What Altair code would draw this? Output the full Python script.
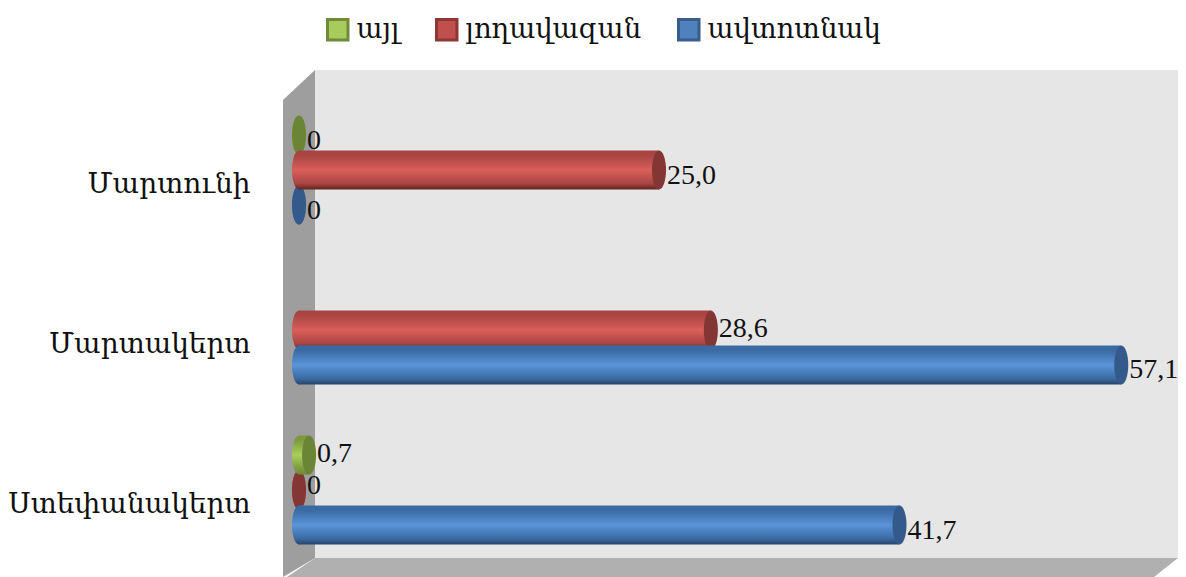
import altair as alt
import pandas as pd

# ---- chart data ----
cities = ["Մարտունի", "Մարտակերտ", "Ստեփանակերտ"]
series = ["այլ", "լողավազան", "ավտոտնակ"]
values_other = [0, None, 0.7]
values_pool = [25.0, 28.6, 0]
values_garage = [0, 57.1, 41.7]
labels_other = ["0", "", "0,7"]
labels_pool = ["25,0", "28,6", "0"]
labels_garage = ["0", "57,1", "41,7"]

# ---- styling ----
SERIF = "DejaVu Serif"
NUM_FONT = "Liberation Serif"
PX_W, PX_H = 895, 507
XDOM = [-1.111, 61.04]
DEPTH = 1.111
BAND_STYLE = {
    "այլ": dict(off=-35, stops=["#7d9a3f", "#a9cf59", "#6f8a35"], cap="#6b8536", swatch="#a9cb5d", edge="#6f8a38"),
    "լողավազան": dict(off=0, stops=["#a84542", "#d95f5b", "#5e2423"], cap="#843634", swatch="#c0504d", edge="#8c3836"),
    "ավտոտնակ": dict(off=35, stops=["#3a6aa3", "#5a93d8", "#274468"], cap="#335a8a", swatch="#4f81bd", edge="#385d8a"),
}
nudge = {
    ("այլ", cities[0]): 6, ("լողավազան", cities[0]): 6, ("ավտոտնակ", cities[0]): 6,
    ("լողավազան", cities[1]): -1, ("ավտոտնակ", cities[1]): 5,
    ("այլ", cities[2]): -1, ("լողավազան", cities[2]): -4, ("ավտոտնակ", cities[2]): 6,
}
ELLIPSE = "M0,-1 A0.36,1 0 1,1 0,1 A0.36,1 0 1,1 0,-1 Z"

rows = []
for s, vals, labs in [(series[0], values_other, labels_other),
                      (series[1], values_pool, labels_pool),
                      (series[2], values_garage, labels_garage)]:
    for c, v, l in zip(cities, vals, labs):
        if v is not None:
            rows.append(dict(city=c, series=s, v=v, label=l))
df = pd.DataFrame(rows)

xs = alt.Scale(domain=XDOM, nice=False, zero=False)
ys = alt.Scale(domain=cities, range=[20, 500], paddingInner=0, paddingOuter=0)
wall_y = alt.Scale(domain=[0, PX_H], nice=False, zero=False)


def grad(stops):
    return alt.LinearGradient(
        gradient="linear", x1=0, x2=0, y1=0, y2=1,
        stops=[alt.GradientStop(offset=0.0, color=stops[0]),
               alt.GradientStop(offset=0.12, color=stops[0]),
               alt.GradientStop(offset=0.5, color=stops[1]),
               alt.GradientStop(offset=0.85, color=stops[0]),
               alt.GradientStop(offset=1.0, color=stops[2])])


def wall(points, color):
    d = pd.DataFrame(points, columns=["x", "top", "bottom"])
    return alt.Chart(d).mark_area(color=color, opacity=1, interpolate="linear").encode(
        x=alt.X("x:Q", scale=xs, axis=None),
        y=alt.Y("top:Q", scale=wall_y, axis=None),
        y2="bottom:Q",
    )


layers = [
    wall([(DEPTH, PX_H, 19), (XDOM[1], PX_H, 19)], "#e6e6e6"),
    wall([(XDOM[0], 477, 0), (DEPTH, PX_H, 19)], "#9e9e9e"),
    wall([(XDOM[0] + 0.28, 0, 0), (DEPTH, 19, 0), (XDOM[1] - 1.66, 19, 0), (XDOM[1], 19, 19)], "#b0b0b0"),
]

first = True
for _, r in df.sort_values("v", kind="stable").iterrows():
    st = BAND_STYLE[r["series"]]
    one = pd.DataFrame([r.to_dict()])
    y_axis = alt.Axis(
        orient="left", domain=False, ticks=False, grid=False, title=None,
        labelFont=SERIF, labelFontSize=28, labelColor="#111111",
        labelPadding=33, labelOffset=15, labelLimit=300,
    ) if first else None
    first = False
    y = alt.Y("city:N", scale=ys, sort=cities, axis=y_axis)
    x = alt.X("v:Q", scale=xs, axis=None, stack=None)
    base = alt.Chart(one)
    left_cap = alt.Chart(pd.DataFrame([dict(city=r["city"], z=0)])).mark_point(
        shape=ELLIPSE, filled=True, size=1521, fill=grad(st["stops"]), opacity=1,
        strokeWidth=0, yOffset=st["off"],
    ).encode(x=alt.X("z:Q", scale=xs, axis=None), y=alt.Y("city:N", scale=ys, sort=cities, axis=None))
    bar = base.mark_bar(size=39, fill=grad(st["stops"]), opacity=1, yOffset=st["off"]).encode(x=x, y=y)
    cap = base.mark_point(
        shape=ELLIPSE, filled=True, size=1521, fill=st["cap"], opacity=1,
        strokeWidth=0, yOffset=st["off"],
    ).encode(x=x, y=alt.Y("city:N", scale=ys, sort=cities, axis=None))
    txt = base.mark_text(
        align="left", baseline="middle", dx=8, dy=nudge[(r["series"], r["city"])],
        yOffset=st["off"], font=NUM_FONT, fontSize=28, color="#111111",
    ).encode(x=x, y=alt.Y("city:N", scale=ys, sort=cities, axis=None), text="label:N")
    layers += [left_cap, bar, cap, txt]

legend = alt.Legend(
    orient="none", legendX=41, legendY=-54, direction="horizontal", columns=3,
    title=None, symbolType="square", symbolSize=420, symbolStrokeWidth=3,
    labelFont=SERIF, labelFontSize=27.5, labelColor="#111111", labelOffset=5,
    columnPadding=30, values=series, labelLimit=300,
)
legend_layer = alt.Chart(df).mark_point(filled=True, size=0, opacity=1).encode(
    x=alt.X("v:Q", scale=xs, axis=None),
    y=alt.Y("city:N", scale=ys, sort=cities, axis=None),
    fill=alt.Fill("series:N", scale=alt.Scale(domain=series, range=[BAND_STYLE[s]["swatch"] for s in series]), legend=legend),
    stroke=alt.Stroke("series:N", scale=alt.Scale(domain=series, range=[BAND_STYLE[s]["edge"] for s in series]), legend=legend),
)
layers.append(legend_layer)

chart = alt.layer(*layers).resolve_scale(y="independent").properties(
    width=PX_W, height=PX_H,
    autosize=alt.AutoSizeParams(type="none"),
    padding={"left": 275, "top": 62, "right": 0, "bottom": 0},
    background="white",
).configure_view(stroke=None)

chart.save("out.html", embed_options={"renderer": "svg", "actions": False})
